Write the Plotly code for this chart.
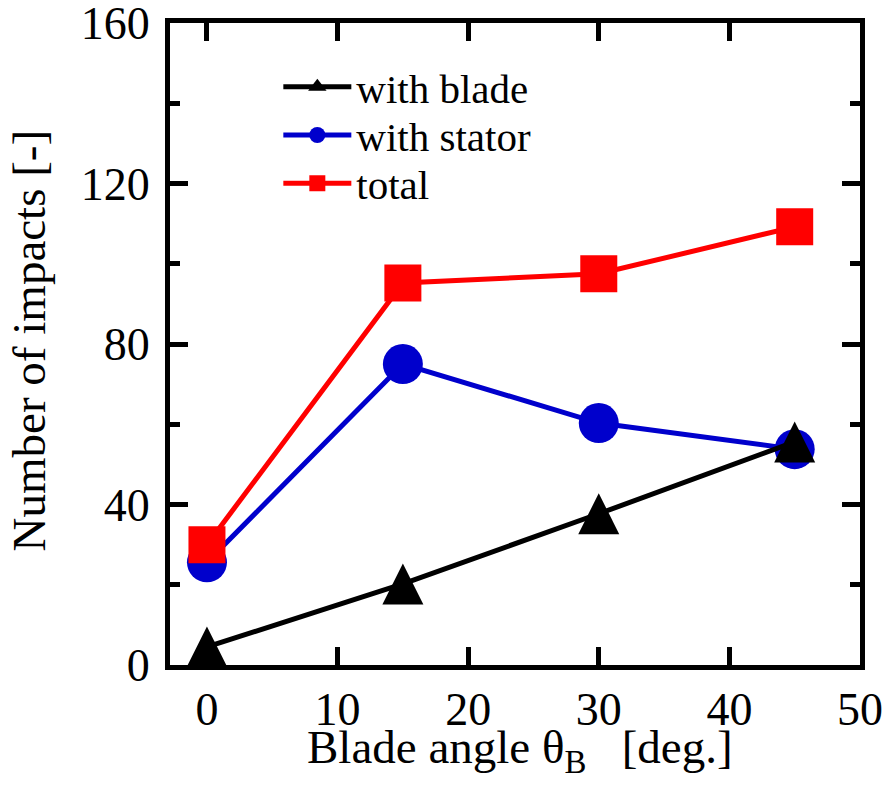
import plotly.graph_objects as go

angles = [0, 15, 30, 45]
with_blade = [4.5, 20.2, 37.7, 55.6]
with_stator = [25.6, 75.0, 60.3, 53.8]
total = [30.0, 95.2, 97.5, 109.2]

x_ticks = [0, 10, 20, 30, 40, 50]
y_ticks = [0, 40, 80, 120, 160]

FONT = "Liberation Serif"
BLUE = "#0000CC"
RED = "#FF0000"

fig = go.Figure()

fig.add_trace(go.Scatter(
    x=angles, y=with_stator, name="with stator", mode="lines+markers",
    line=dict(color=BLUE, width=5),
    marker=dict(symbol="circle", size=40, color=BLUE, line=dict(width=0)),
    legend="legend2",
))
fig.add_trace(go.Scatter(
    x=angles, y=with_blade, name="with blade", mode="lines+markers",
    line=dict(color="black", width=5),
    marker=dict(symbol="arrow-down", angle=180, standoff=20.5, size=41,
                color="black", line=dict(width=0)),
    showlegend=False,
))
# legend-only entry for the black series (no marks drawn)
fig.add_trace(go.Scatter(
    x=[None], y=[None], name="with blade", mode="lines+markers",
    line=dict(color="black", width=5),
    marker=dict(symbol="triangle-up", size=20, color="black", line=dict(width=0)),
    legend="legend",
))
fig.add_trace(go.Scatter(
    x=angles, y=total, name="total", mode="lines+markers",
    line=dict(color=RED, width=5),
    marker=dict(symbol="square", size=37, color=RED, line=dict(width=0)),
    legend="legend3",
))

axis_common = dict(
    showline=True, linecolor="black", linewidth=5, mirror="ticks",
    ticks="inside", tickcolor="black", tickwidth=5, ticklen=18,
    showgrid=False, zeroline=False, ticklabeloverflow="allow",
    automargin=False,
    tickfont=dict(family=FONT, size=46, color="black"),
)

fig.update_xaxes(range=[-2.83, 50], tickvals=x_ticks, **axis_common)
fig.update_yaxes(
    range=[0, 160], tickvals=y_ticks, ticklabelstandoff=6,
    minor=dict(dtick=20, ticks="inside", ticklen=10, tickwidth=5, tickcolor="black"),
    **axis_common,
)

fig.add_annotation(
    text="Blade angle θ<sub>B</sub> &nbsp; [deg.]",
    xref="paper", yref="paper", x=0.507, y=-0.133,
    xanchor="center", yanchor="middle", showarrow=False,
    font=dict(family=FONT, size=47, color="black"),
)
fig.add_annotation(
    text="Number of impacts [-]", textangle=-90,
    xref="paper", yref="paper", x=-0.204, y=0.506,
    xanchor="center", yanchor="middle", showarrow=False,
    font=dict(family=FONT, size=47, color="black"),
)

leg_common = dict(
    font=dict(family=FONT, size=41, color="black"),
    bgcolor="rgba(0,0,0,0)", borderwidth=0, itemwidth=68,
    xanchor="left", yanchor="middle", xref="paper", yref="paper",
)
fig.update_layout(
    width=886, height=785,
    margin=dict(l=170, r=26, t=23, b=120),
    paper_bgcolor="white", plot_bgcolor="white",
    showlegend=True,
    legend=dict(x=0.157, y=0.90, **leg_common),
    legend2=dict(x=0.157, y=0.825, **leg_common),
    legend3=dict(x=0.157, y=0.75, **leg_common),
)

fig.write_html("out.html")
